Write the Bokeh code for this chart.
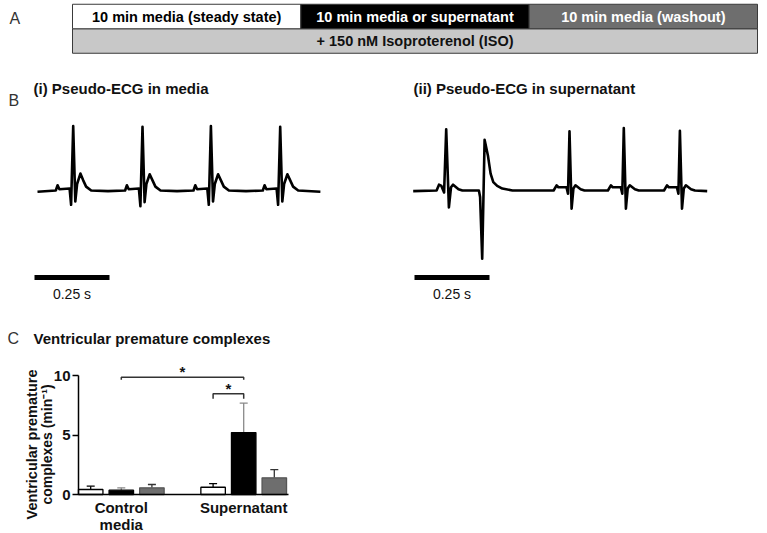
import numpy as np
from bokeh.plotting import figure
from bokeh.layouts import column, row
from bokeh.models import Range1d, ColumnDataSource, FixedTicker, Whisker, TeeHead
from bokeh.core.properties import value
from bokeh.embed import file_html
from bokeh.resources import INLINE

FONT = "Liberation Sans"

# ---------------- data ----------------
# Panel A: protocol
protocol_labels = ["10 min media (steady state)", "10 min media or supernatant", "10 min media (washout)"]
protocol_minutes = [10, 10, 10]
protocol_fill = ["white", "black", "#6e6e6e"]
protocol_text_color = ["black", "white", "white"]
iso_label = "+ 150 nM Isoproterenol (ISO)"

# Panel B: pseudo-ECG traces (time in ms, amplitude in arbitrary units, baseline = 0)
ecg1_t_ms = [0,
             61, 67, 73, 107, 112, 119, 126, 132, 143, 152, 162, 179,
             235,
             292, 298, 304, 338, 343, 350, 357, 363, 374, 383, 393, 410,
             465,
             520, 526, 532, 566, 571, 578, 585, 591, 602, 611, 621, 638,
             695,
             751, 757, 763, 797, 802, 809, 816, 822, 833, 842, 852, 869,
             943]
ecg1_amp = [-0.02,
            0.0, 0.08, 0.02, 0.03, -0.22, 0.99, -0.17, 0.10, 0.26, 0.16, 0.06, 0.0,
            -0.01,
            0.0, 0.08, 0.02, 0.03, -0.24, 0.98, -0.18, 0.10, 0.25, 0.16, 0.06, 0.0,
            -0.01,
            0.0, 0.08, 0.02, 0.03, -0.22, 0.99, -0.17, 0.10, 0.25, 0.16, 0.06, 0.0,
            -0.01,
            0.0, 0.08, 0.02, 0.03, -0.22, 0.98, -0.17, 0.10, 0.25, 0.16, 0.06, 0.0,
            -0.02]
ecg2_t_ms = [0,
             78, 86, 94, 103, 110, 119, 126, 133, 151, 164,
             219, 223, 230, 238, 249, 258, 267, 280, 297, 331,
             468, 478, 484, 511, 516, 521, 528, 534, 541, 558, 571,
             649, 659, 665, 692, 697, 702, 709, 715, 722, 739, 752,
             836, 846, 852, 879, 884, 889, 896, 902, 909, 926, 939,
             980]
ecg2_amp = [-0.01,
            0.0, 0.09, 0.07, -0.03, 0.94, -0.26, 0.05, 0.09, 0.02, 0.0,
            0.0, -0.10, -1.05, 0.78, 0.54, 0.26, 0.13, 0.07, 0.03, 0.0,
            0.0, 0.08, 0.05, 0.05, -0.05, 0.91, -0.28, 0.03, 0.08, 0.02, 0.0,
            0.0, 0.08, 0.05, 0.05, -0.05, 0.96, -0.28, 0.03, 0.08, 0.02, 0.0,
            0.0, 0.08, 0.05, 0.05, -0.05, 0.92, -0.28, 0.03, 0.08, 0.02, 0.0,
            -0.01]
scale_bar_ms = 250
scale_bar_label = "0.25 s"

# Panel C: ventricular premature complexes (min^-1), mean and SEM
groups = ["Control\nmedia", "Supernatant"]
conditions = ["Steady state", "Media or supernatant", "Washout"]
vpc_control = [0.42, 0.36, 0.56]
vpc_control_sem = [0.28, 0.20, 0.28]
vpc_supernatant = [0.61, 5.20, 1.40]
vpc_supernatant_sem = [0.31, 2.48, 0.69]
# significance brackets: (group index, condition index) pairs
sig_from = [(0, 1), (1, 0)]
sig_to = [(1, 1), (1, 1)]
sig_level = [9.86, 8.46]
sig_drop = [0.22, 0.42]
sig_text = ["*", "*"]


def bare(fig):
    fig.outline_line_color = None
    fig.min_border = 0
    fig.background_fill_color = "white"
    fig.border_fill_color = "white"
    return fig


# ---------------- Panel A ----------------
PX_MIN = 685 / 30.0
ROW_PX = 24.5
ROW1_CENTER = 16.0
pa = bare(figure(width=767, height=60, x_axis_type=None, y_axis_type=None,
                 x_range=Range1d(-72 / PX_MIN, (767 - 72) / PX_MIN),
                 y_range=Range1d(1 + (60 - ROW1_CENTER) / ROW_PX, 1 - ROW1_CENTER / ROW_PX),
                 toolbar_location=None, output_backend="svg"))
ends = np.cumsum(protocol_minutes)
starts = ends - np.array(protocol_minutes)
src_a = ColumnDataSource(dict(left=starts, right=ends, mid=(starts + ends) / 2,
                              fill=protocol_fill, tcol=protocol_text_color, label=protocol_labels))
pa.quad(left=0, right=float(ends[-1]), top=1.5, bottom=2.5, fill_color="#c8c8c8", line_color="#3a3a3a", line_width=1)
pa.quad(left="left", right="right", top=0.5, bottom=1.5, fill_color="fill", line_color="#3a3a3a", line_width=1, source=src_a)
pa.text(x="mid", y=1, text="label", text_color="tcol", text_font=value(FONT), text_font_style="bold",
        text_font_size="14.5px", text_align="center", text_baseline="middle", source=src_a)
pa.text(x=[float(ends[-1]) / 2], y=[2], text=[iso_label], text_color="#111111", text_font=value(FONT),
        text_font_style="bold", text_font_size="14.5px", text_align="center", text_baseline="middle")
pa.text(x=[(9 - 72) / PX_MIN], y=[1 + (18 - ROW1_CENTER) / ROW_PX], text=["A"], text_font=value(FONT),
        text_font_size="16px", text_color="#333333", text_align="left", text_baseline="middle")

# ---------------- Panel B ----------------
PX_MS = 0.3
PX_AMP = 65.0
BASE_Y = 190.0  # page y of baseline


def ecg_panel(width, left_px, t, amp, title, bar_start_px, letter):
    t0_local = left_px
    p = bare(figure(width=width, height=250, x_axis_type=None, y_axis_type=None,
                    x_range=Range1d(-t0_local / PX_MS, (width - t0_local) / PX_MS),
                    y_range=Range1d((BASE_Y - 310) / PX_AMP, (BASE_Y - 60) / PX_AMP),
                    toolbar_location=None, output_backend="svg"))
    p.line(t, amp, line_color="black", line_width=2.6, line_join="round")
    bs = (bar_start_px - t0_local) / PX_MS
    p.line([bs, bs + scale_bar_ms], [(BASE_Y - 277) / PX_AMP] * 2, line_color="black", line_width=5)
    p.text(x=[bs + scale_bar_ms / 2], y=[(BASE_Y - 293) / PX_AMP], text=[scale_bar_label],
           text_font=value(FONT), text_font_size="14px", text_align="center", text_baseline="middle",
           text_color="#111111")
    p.text(x=[(bar_start_px - 1 - t0_local) / PX_MS], y=[(BASE_Y - 88) / PX_AMP], text=[title],
           text_font=value(FONT), text_font_style="bold", text_font_size="15px", text_align="left",
           text_baseline="middle", text_color="#111111")
    if letter:
        p.text(x=[(8 - t0_local) / PX_MS], y=[(BASE_Y - 100) / PX_AMP], text=[letter],
               text_font=value(FONT), text_font_size="16px", text_align="left", text_baseline="middle",
               text_color="#333333")
    return p


pb1 = ecg_panel(383, 37, ecg1_t_ms, ecg1_amp, "(i) Pseudo-ECG in media", 34, "B")
pb2 = ecg_panel(384, 412.7 - 383, ecg2_t_ms, ecg2_amp, "(ii) Pseudo-ECG in supernatant", 414 - 383, None)

# ---------------- Panel C ----------------
PX_X = 30.6
PX_Y = 11.9
X0_PAGE = 120.8
Y0_PAGE = 494.0
TOP_PAGE = 310.0


def cx(px):
    return (px - X0_PAGE) / PX_X


def cy(py):
    return (Y0_PAGE - py) / PX_Y


pc = bare(figure(width=767, height=223, toolbar_location=None, output_backend="svg",
                 x_range=Range1d(cx(0), cx(767)), y_range=Range1d(cy(533), cy(TOP_PAGE))))
pc.xgrid.visible = False
pc.ygrid.visible = False

group_pos = [0, 4]
offsets = [-1, 0, 1]
bar_fill = ["white", "black", "#6e6e6e"]
bar_line = ["black", "black", "#555555"]
err_col = ["black", "#8a8a8a", "#333333"]
means = [vpc_control, vpc_supernatant]
sems = [vpc_control_sem, vpc_supernatant_sem]
for ci in range(3):
    xs = [g + offsets[ci] for g in group_pos]
    m = [means[gi][ci] for gi in range(2)]
    up = [means[gi][ci] + sems[gi][ci] for gi in range(2)]
    s = ColumnDataSource(dict(x=xs, m=m, up=up))
    pc.add_layout(Whisker(base="x", lower="m", upper="up", source=s, line_color=err_col[ci], line_width=1.3,
                          lower_head=None, upper_head=TeeHead(size=8, line_color=err_col[ci], line_width=1.3)))
    pc.vbar(x="x", top="m", bottom=0, width=0.8, fill_color=bar_fill[ci], line_color=bar_line[ci],
            line_width=1.3, source=s)

bx, by, sx, sy = [], [], [], []
for a, b, lv, d in zip(sig_from, sig_to, sig_level, sig_drop):
    xa = group_pos[a[0]] + offsets[a[1]]
    xb = group_pos[b[0]] + offsets[b[1]]
    bx.append([xa, xa, xb, xb])
    by.append([lv - d, lv, lv, lv - d])
    sx.append((xa + xb) / 2)
    sy.append(lv + 0.45)
pc.multi_line(bx, by, line_color="#333333", line_width=1.5)
pc.text(x=sx, y=sy, text=sig_text, text_font=value(FONT), text_font_style="bold", text_font_size="15px",
        text_align="center", text_baseline="middle", text_color="#111111")

yax = pc.yaxis[0]
yax.fixed_location = cx(78)
yax.ticker = FixedTicker(ticks=[0, 5, 10])
yax.bounds = (0, 10)
yax.major_tick_out = 6
yax.major_tick_in = 0
yax.minor_tick_line_color = None
yax.axis_line_width = 1.5
yax.major_tick_line_width = 1.5
yax.major_label_standoff = 2
yax.major_label_text_font = FONT
yax.major_label_text_font_style = "bold"
yax.major_label_text_font_size = "15px"
yax.major_label_text_color = "#111111"

xax = pc.xaxis[0]
xax.fixed_location = 0
xax.ticker = FixedTicker(ticks=group_pos)
xax.major_label_overrides = {group_pos[0]: groups[0], group_pos[1]: groups[1]}
xax.bounds = (cx(78), cx(288))
xax.major_tick_out = 0
xax.major_tick_in = 0
xax.minor_tick_line_color = None
xax.axis_line_width = 1.5
xax.major_label_standoff = 4
xax.major_label_text_font = FONT
xax.major_label_text_font_style = "bold"
xax.major_label_text_font_size = "15px"
xax.major_label_text_line_height = 1.05
xax.major_label_text_color = "#111111"

pc.text(x=[cx(7)], y=[cy(338)], text=["C"], text_font=value(FONT), text_font_size="16px",
        text_color="#333333", text_align="left", text_baseline="middle")
pc.text(x=[cx(33)], y=[cy(338)], text=["Ventricular premature complexes"], text_font=value(FONT),
        text_font_style="bold", text_font_size="15px", text_color="#111111",
        text_align="left", text_baseline="middle")
pc.text(x=[cx(31)], y=[cy(444)], text=["Ventricular premature"], angle=np.pi / 2, text_font=value(FONT),
        text_font_style="bold", text_font_size="14.5px", text_color="#111111",
        text_align="center", text_baseline="middle")
pc.text(x=[cx(46)], y=[cy(444)], text=["complexes (min\u207b\u00b9)"], angle=np.pi / 2, text_font=value(FONT),
        text_font_style="bold", text_font_size="14px", text_color="#111111",
        text_align="center", text_baseline="middle")

layout = column(pa, row(pb1, pb2), pc)
open("out.html", "w").write(file_html(layout, INLINE))
